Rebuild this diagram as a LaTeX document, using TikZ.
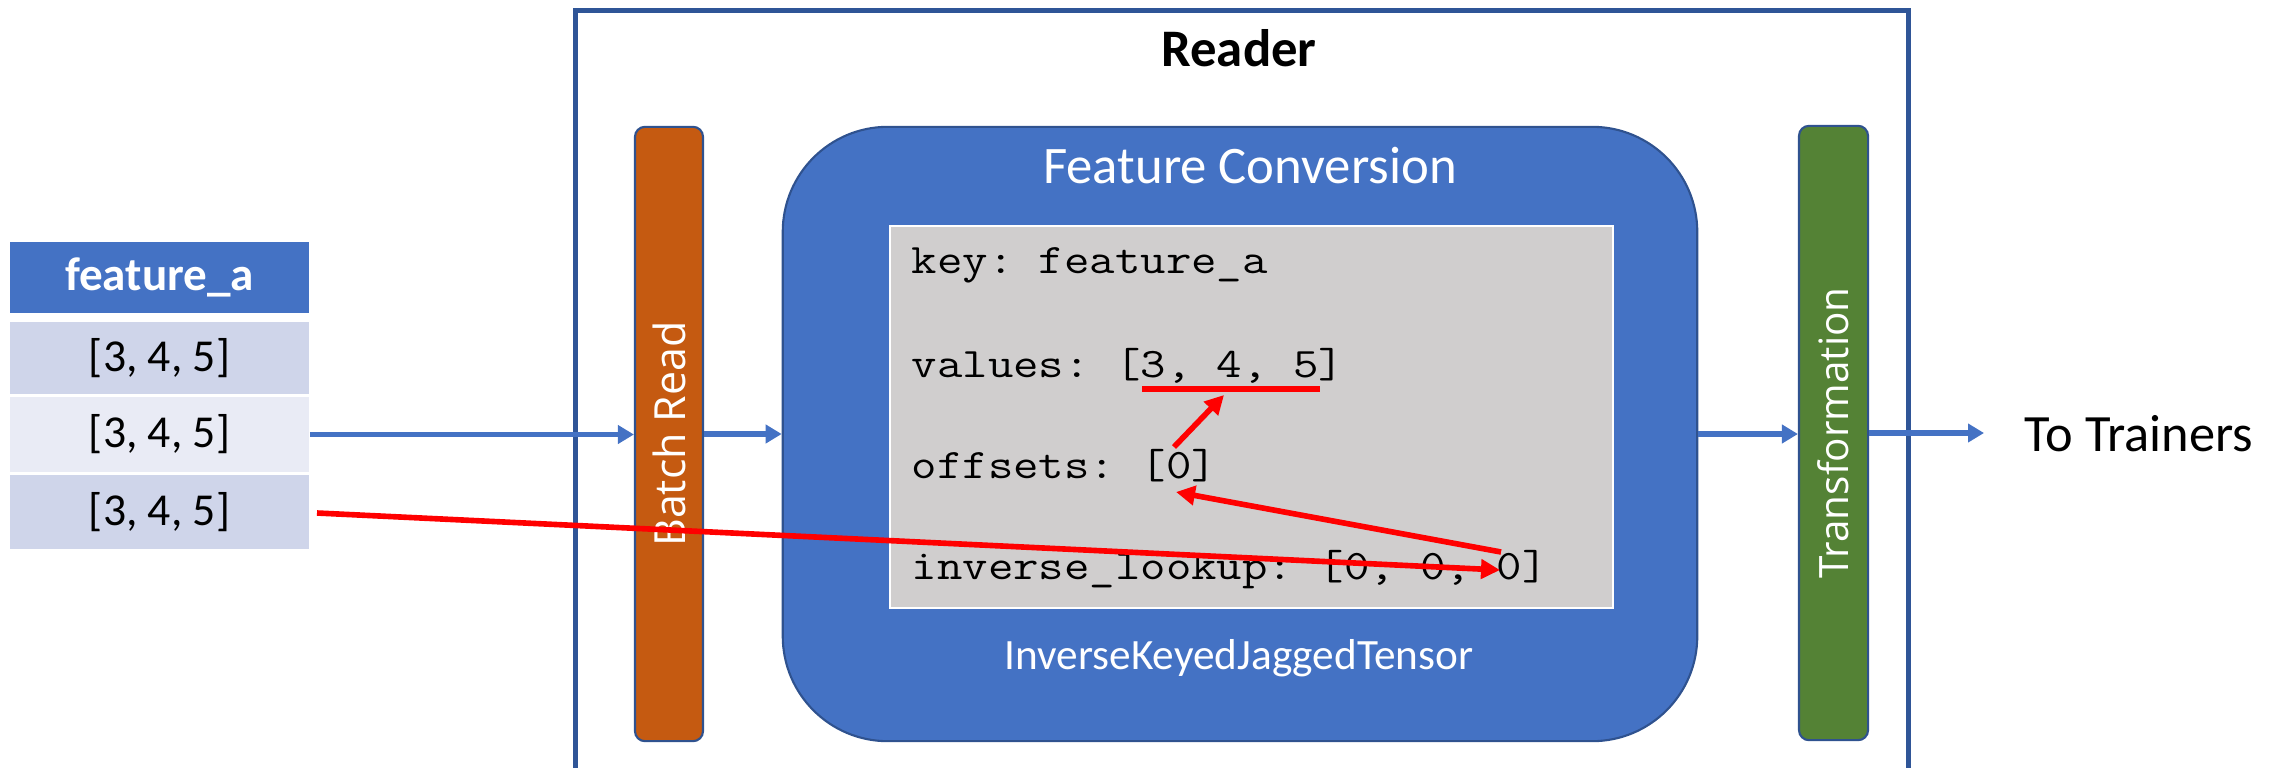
\documentclass[tikz,border=0pt]{standalone}
\usepackage{fontspec}
\setmainfont{Carlito}
\newfontfamily\segfont{Open Sans}
\usepackage{graphicx}
\usetikzlibrary{arrows.meta}
\definecolor{fcblue}{HTML}{4472C4}
\definecolor{edgeblue}{HTML}{2F528F}
\definecolor{readerblue}{HTML}{2F5597}
\definecolor{batchorange}{HTML}{C55A11}
\definecolor{transgreen}{HTML}{548235}
\definecolor{codegray}{HTML}{D0CECE}
\definecolor{rowdark}{HTML}{CFD5EA}
\definecolor{rowlight}{HTML}{E9EBF5}
\definecolor{arrowred}{HTML}{FF0000}
\begin{document}
\begin{tikzpicture}[x=0.01cm,y=-0.01cm,
  cell/.style={rectangle, minimum width=2.99cm, inner sep=0pt, font=\fontsize{13}{15}\selectfont},
  bar/.style={rectangle, rounded corners=0.1cm, draw=edgeblue, line width=0.6pt,
     minimum width=0.68cm, minimum height=6.14cm, inner sep=0pt, text=white,
     font=\segfont\fontsize{11.5}{13}\selectfont},
  codeline/.style={anchor=base west, inner sep=0pt, font=\ttfamily\frenchspacing\fontsize{11.95}{14}\selectfont},
  bluearrow/.style={draw=fcblue, line width=1.45pt, -{Triangle[length=0.16cm,width=0.18cm]}},
  redarrow/.style={draw=arrowred, line width=1.6pt, -{Triangle[length=0.19cm,width=0.19cm]}},
  redline/.style={draw=arrowred, line width=1.6pt}
]
\useasboundingbox (0,0) rectangle (2283,767);

% Reader frame
\node[draw=readerblue, line width=1.4pt, minimum width=13.32cm, minimum height=8cm,
      anchor=north west, inner sep=0pt] (reader) at (573,8) {};
\node[font=\bfseries\fontsize{15}{18}\selectfont] (title) at (1239,48) {Reader};

% Left table
\node[cell, fill=fcblue, text=white, font=\bfseries\fontsize{13.4}{16}\selectfont,
      minimum height=0.71cm] (hdr) at (159.5,277.5) {feature\_a};
\node[cell, fill=rowdark, minimum height=0.72cm] (r1) at (159.5,358) {[3, 4, 5]};
\node[cell, fill=rowlight, minimum height=0.75cm] (r2) at (159.5,434.5) {[3, 4, 5]};
\node[cell, fill=rowdark, minimum height=0.74cm] (r3) at (159.5,512) {[3, 4, 5]};

% Bars
\node[bar, fill=batchorange, font=\segfont\fontsize{12.2}{14}\selectfont] (batch) at (669,434) {\rotatebox{90}{Batch Read}};
\node[bar, fill=transgreen, minimum width=0.69cm] (trans) at (1833.5,433) {\rotatebox{90}{Transformation}};

% Feature conversion
\node[rectangle, rounded corners=1.05cm, fill=fcblue, draw=edgeblue, line width=0.6pt,
      minimum width=9.14cm, minimum height=6.14cm] (fc) at (1240,434) {};
\node[text=white, font=\fontsize{15}{18}\selectfont] (fctitle) at (1250,166) {Feature Conversion};
\node[text=white, font=\fontsize{12.3}{15}\selectfont] (ikjt) at (1239,658) {InverseKeyedJaggedTensor};

% Code box
\node[rectangle, fill=codegray, draw=white, line width=0.6pt,
      minimum width=7.23cm, minimum height=3.82cm] (code) at (1251.5,417) {};
\node[codeline] (lkey) at (911,273) {\scalebox{1.175}[1]{key: feature\_a}};
\node[codeline] (lval) at (911,377) {\scalebox{1.175}[1]{values: [3, 4, 5]}};
\node[codeline] (loff) at (911,478) {\scalebox{1.175}[1]{offsets: [0]}};
\node[codeline] (linv) at (911,579) {\scalebox{1.175}[1]{inverse\_lookup: [0, 0, 0]}};

% Output label
\node[anchor=west, inner sep=0pt, font=\fontsize{14.9}{17}\selectfont] (totr) at (2024,434) {To Trainers};

% Blue arrows
\draw[bluearrow] (r2.east) -- (r2.east -| batch.west);
\draw[bluearrow] (batch.east) -- (batch.east -| fc.west);
\draw[bluearrow] (fc.east) -- (fc.east -| trans.west);
\coordinate (outtip) at (1984,433);
\draw[bluearrow] (trans.east) -- (outtip);

% Red marks
\coordinate (ul1) at (1142,389);
\coordinate (ul2) at (1320,389);
\draw[redline] (ul1) -- (ul2);
\coordinate (rs) at (317,513);
\coordinate (rt) at (1500,570);
\draw[redarrow] (rs) -- (rt);
\coordinate (bs) at (1501,552);
\coordinate (bt) at (1176,492);
\draw[redarrow] (bs) -- (bt);
\coordinate (cs) at (1174,447);
\coordinate (ct) at (1224,395);
\draw[redarrow] (cs) -- (ct);
\end{tikzpicture}
\end{document}
